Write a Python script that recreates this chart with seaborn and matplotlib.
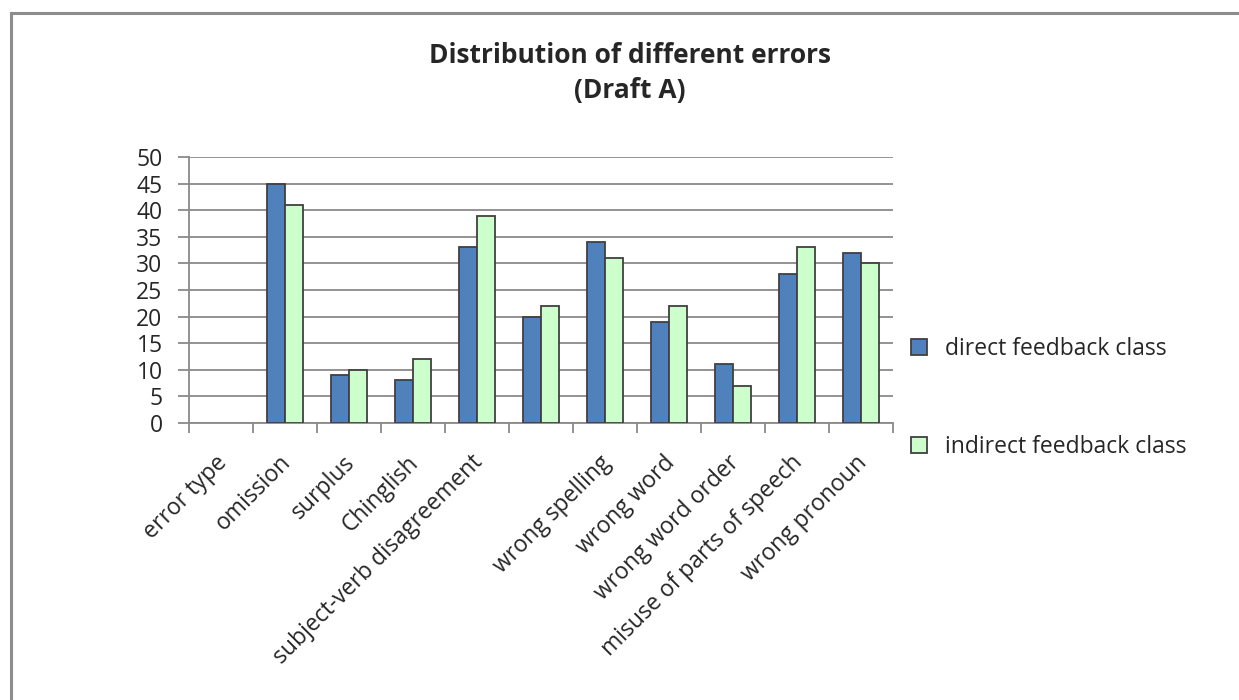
import matplotlib
matplotlib.use("Agg")
import matplotlib.pyplot as plt
import matplotlib.transforms as mtransforms
import numpy as np
import pandas as pd
import seaborn as sns
from matplotlib.patches import Rectangle

# Error categories (the sixth category has a blank label)
categories = [
    "error type", "omission", "surplus", "Chinglish",
    "subject-verb disagreement", "", "wrong spelling", "wrong word",
    "wrong word order", "misuse of parts of speech", "wrong pronoun",
]
direct_counts = [np.nan, 45, 9, 8, 33, 20, 34, 19, 11, 28, 32]
indirect_counts = [np.nan, 41, 10, 12, 39, 22, 31, 22, 7, 33, 30]
series_names = ["direct feedback class", "indirect feedback class"]
y_ticks = list(range(0, 51, 5))

# Unique keys so the blank-labelled category keeps its own slot
keys = [f"c{i}" for i in range(len(categories))]
df = pd.DataFrame({
    "key": keys * 2,
    "count": direct_counts + indirect_counts,
    "series": [series_names[0]] * len(keys) + [series_names[1]] * len(keys),
})

sns.set_theme(style="white")
plt.rcParams["font.family"] = ["Open Sans", "DejaVu Sans"]

W, H = 1239, 700
fig = plt.figure(figsize=(W / 100, H / 100), dpi=100)
fig.patch.set_facecolor("white")

# Outer chart frame (top and left edges visible)
fig.patches.append(Rectangle((10.5 / W, -0.1), 1.2, (H - 13) / H + 0.1,
                             transform=fig.transFigure, fill=False,
                             edgecolor="#8c8c8c", linewidth=2.2, zorder=0))

ax = fig.add_axes([189 / W, (H - 423) / H, (893 - 189) / W, (423 - 157) / H])

palette = {series_names[0]: "#4F81BD", series_names[1]: "#CCFFCC"}
sns.barplot(data=df, x="key", y="count", hue="series", order=keys,
            hue_order=series_names, palette=palette, width=0.57,
            edgecolor="#404040", linewidth=1.3, saturation=1,
            ax=ax, zorder=3)

FS = 16.5
ax.set_ylim(0, 50)
ax.set_xlim(-0.5, len(categories) - 0.5)
ax.set_yticks(y_ticks)
ax.set_yticklabels([str(v) for v in y_ticks], fontsize=FS)
ax.yaxis.grid(True, color="#8a8a8a", linewidth=1.3, zorder=0)
ax.set_axisbelow(True)

# Category ticks sit on the boundaries, labels at the centres
ax.set_xticks(np.arange(-0.5, len(categories), 1.0))
ax.set_xticklabels([])
ax.set_xticks(np.arange(len(categories)), minor=True)
ax.set_xticklabels(categories, minor=True, rotation=45, ha="right",
                   rotation_mode="anchor", fontsize=FS)
ax.tick_params(axis="x", which="major", length=7, width=1.3,
               color="#8a8a8a", direction="out", bottom=True)
ax.tick_params(axis="x", which="minor", length=0, pad=20)
ax.tick_params(axis="y", length=8, width=1.3, color="#8a8a8a",
               direction="out", left=True, pad=11)

# Nudge the rotated category labels slightly to the left
shift = mtransforms.ScaledTranslation(-6 / 100, 0, fig.dpi_scale_trans)
for lbl in ax.get_xticklabels(minor=True):
    lbl.set_transform(lbl.get_transform() + shift)

ax.set_xlabel("")
ax.set_ylabel("")
for side in ["top", "right"]:
    ax.spines[side].set_visible(False)
for side in ["left", "bottom"]:
    ax.spines[side].set_color("#8a8a8a")
    ax.spines[side].set_linewidth(1.3)

ax.get_legend().remove()
handles = [Rectangle((0, 0), 1, 1, facecolor=palette[s], edgecolor="#404040",
                     linewidth=1.3) for s in series_names]
fig.legend(handles, series_names, loc="upper left",
           bbox_to_anchor=(890 / W, (H - 316) / H), frameon=False,
           fontsize=FS, handlelength=0.7, handleheight=0.7,
           labelspacing=3.25, handletextpad=0.8)

fig.text(630 / W, (H - 73) / H, "Distribution of different errors\n(Draft A)",
         ha="center", va="center", fontsize=19, fontweight="bold",
         linespacing=1.4)

fig.savefig("out.png", dpi=100)
